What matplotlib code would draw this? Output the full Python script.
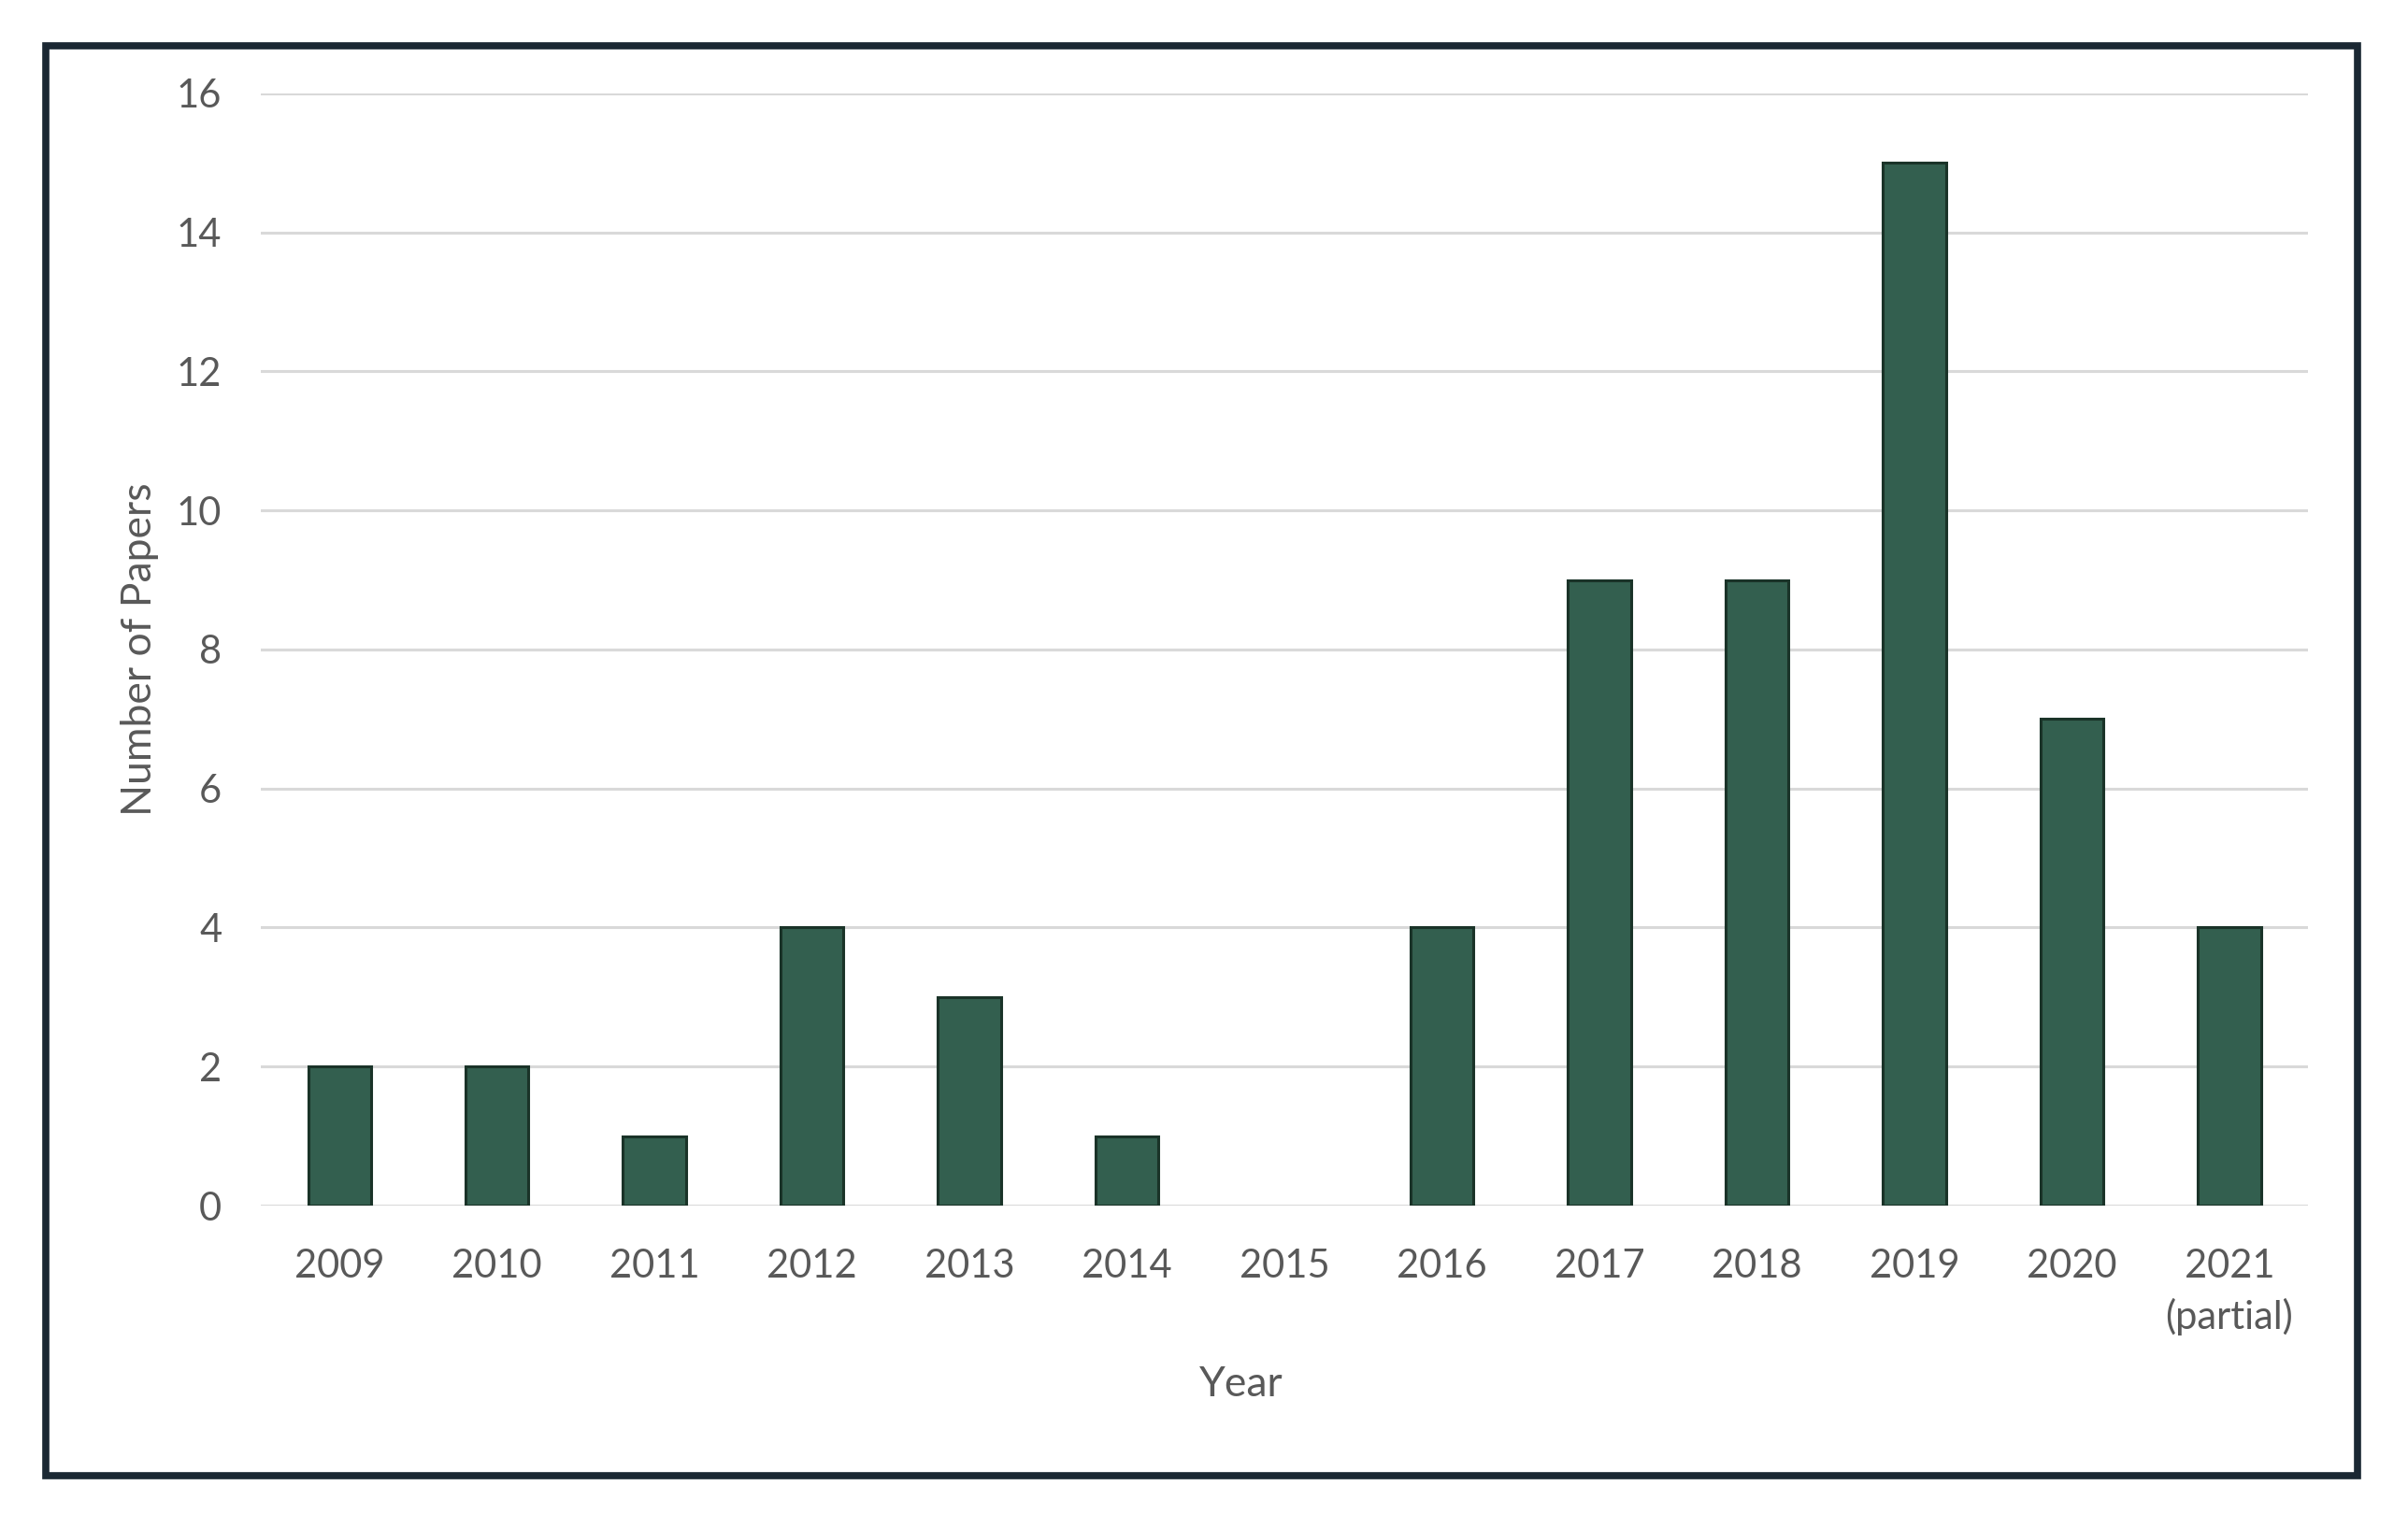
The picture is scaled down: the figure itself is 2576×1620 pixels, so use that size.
import matplotlib.pyplot as plt
from matplotlib.patches import Rectangle

# Papers per year
years = ['2009', '2010', '2011', '2012', '2013', '2014', '2015',
         '2016', '2017', '2018', '2019', '2020', '2021\n(partial)']
papers = [2, 2, 1, 4, 3, 1, 0, 4, 9, 9, 15, 7, 4]
yticks = [0, 2, 4, 6, 8, 10, 12, 14, 16]

plt.rcParams['font.family'] = ['Lato', 'DejaVu Sans']
text_color = '#595959'

fig = plt.figure(figsize=(25.76, 16.2), dpi=100)
ax = fig.add_axes([0.1083, 0.2037, 0.8502, 0.7346])

x = range(len(years))
# Excel draws nothing for a zero bar, so skip its outline
edges = [2.2 if v > 0 else 0 for v in papers]
ax.bar(x, papers, width=0.4, color='#335f4f', edgecolor='#1a3328',
       linewidth=edges, zorder=3)

ax.set_xlim(-0.5, len(years) - 0.5)
ax.set_ylim(0, 16)
ax.set_yticks(yticks)
ax.set_xticks(list(x))
ax.set_xticklabels(years, linespacing=1.45)
ax.grid(axis='y', color='#d9d9d9', linewidth=2.2, zorder=0)
ax.tick_params(axis='both', length=0, labelsize=30, colors=text_color)
ax.tick_params(axis='y', pad=30)
ax.tick_params(axis='x', pad=33)
for s in ax.spines.values():
    s.set_visible(False)

ax.set_ylabel('Number of Papers', fontsize=32, color=text_color)
ax.set_xlabel('Year', fontsize=32, color=text_color)
ax.yaxis.set_label_coords(-0.0497, 0.5)
ax.xaxis.set_label_coords(0.479, -0.1435)

# chart border
fig.patches.append(Rectangle((49 / 2576, 1 - 1579 / 1620), (2522 - 49) / 2576,
                             (1579 - 49) / 1620, transform=fig.transFigure,
                             fill=False, edgecolor='#1b2833', linewidth=5.5))

fig.savefig('out.png', dpi=100, facecolor='white')
